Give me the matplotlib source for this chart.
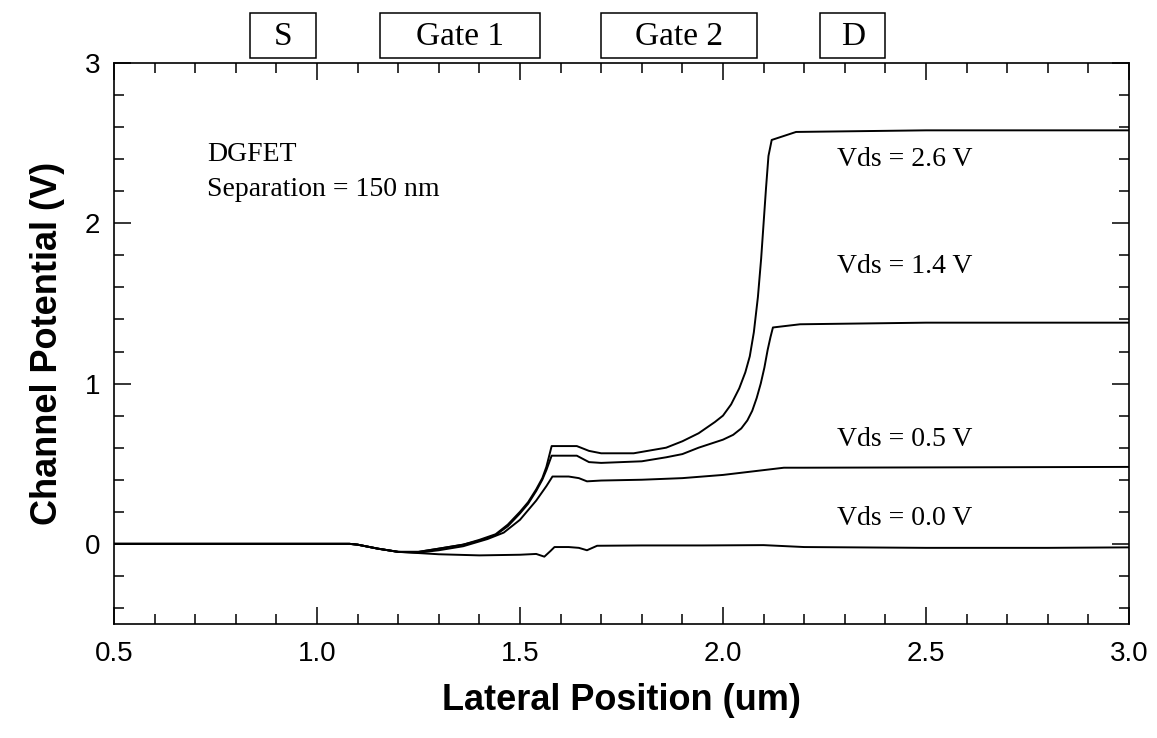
import matplotlib
matplotlib.use("Agg")
import matplotlib.pyplot as plt
from matplotlib.ticker import MultipleLocator

# curves: lateral position (um) vs channel potential (V)
x_vds0 = [0.5, 0.8, 1.0, 1.08, 1.1, 1.15, 1.2, 1.3, 1.4, 1.5, 1.54, 1.56, 1.575,
          1.585, 1.62, 1.645, 1.665, 1.69, 1.8, 1.95, 2.1, 2.2, 2.5, 2.8, 3.0]
v_vds0 = [0.0, 0.0, 0.0, 0.0, -0.005, -0.03, -0.05, -0.065, -0.072, -0.068, -0.063,
          -0.08, -0.045, -0.02, -0.02, -0.025, -0.04, -0.012, -0.01, -0.01, -0.008,
          -0.02, -0.025, -0.025, -0.022]

x_vds05 = [0.5, 0.8, 1.0, 1.08, 1.1, 1.15, 1.2, 1.25, 1.3, 1.36, 1.42, 1.46, 1.5,
           1.54, 1.565, 1.58, 1.62, 1.645, 1.665, 1.7, 1.8, 1.9, 2.0, 2.1, 2.15,
           2.2, 3.0]
v_vds05 = [0.0, 0.0, 0.0, 0.0, -0.005, -0.03, -0.05, -0.055, -0.04, -0.015, 0.03,
           0.07, 0.15, 0.27, 0.36, 0.42, 0.42, 0.41, 0.39, 0.395, 0.40, 0.41, 0.43,
           0.46, 0.475, 0.475, 0.48]

x_vds14 = [0.5, 0.8, 1.0, 1.08, 1.1, 1.15, 1.2, 1.25, 1.3, 1.36, 1.4, 1.44, 1.47,
           1.5, 1.52, 1.54, 1.555, 1.565, 1.578, 1.64, 1.67, 1.7, 1.8, 1.86, 1.9,
           1.94, 1.97, 2.0, 2.025, 2.045, 2.06, 2.072, 2.083, 2.093, 2.102, 2.11,
           2.117, 2.123, 2.19, 2.5, 3.0]
v_vds14 = [0.0, 0.0, 0.0, 0.0, -0.005, -0.03, -0.05, -0.05, -0.03, -0.005, 0.02,
           0.055, 0.11, 0.19, 0.25, 0.33, 0.40, 0.46, 0.55, 0.55, 0.51, 0.505, 0.515,
           0.54, 0.56, 0.60, 0.625, 0.65, 0.68, 0.72, 0.77, 0.83, 0.91, 1.0, 1.1,
           1.21, 1.29, 1.35, 1.37, 1.38, 1.38]

x_vds26 = [0.5, 0.8, 1.0, 1.08, 1.1, 1.15, 1.2, 1.25, 1.3, 1.36, 1.4, 1.44, 1.47,
           1.5, 1.52, 1.54, 1.555, 1.565, 1.578, 1.64, 1.67, 1.7, 1.78, 1.86, 1.9,
           1.94, 1.98, 2.0, 2.02, 2.04, 2.055, 2.066, 2.076, 2.086, 2.094, 2.1,
           2.106, 2.112, 2.12, 2.18, 2.5, 3.0]
v_vds26 = [0.0, 0.0, 0.0, 0.0, -0.005, -0.03, -0.05, -0.05, -0.03, -0.005, 0.025,
           0.06, 0.12, 0.20, 0.26, 0.34, 0.41, 0.48, 0.61, 0.61, 0.58, 0.565, 0.565,
           0.60, 0.64, 0.69, 0.76, 0.80, 0.87, 0.97, 1.07, 1.17, 1.32, 1.54, 1.78,
           2.0, 2.22, 2.42, 2.52, 2.57, 2.58, 2.58]

curve_labels = ["Vds = 2.6 V", "Vds = 1.4 V", "Vds = 0.5 V", "Vds = 0.0 V"]
label_x = [2.28, 2.28, 2.28, 2.28]
label_y = [2.40, 1.73, 0.65, 0.16]

# device regions drawn as boxes above the plot
regions = ["S", "Gate 1", "Gate 2", "D"]
region_start = [0.835, 1.155, 1.70, 2.24]
region_end = [0.997, 1.549, 2.085, 2.40]

fig = plt.figure(figsize=(11.57, 7.38), dpi=100)
ax = fig.add_axes([0.0985, 0.1545, 0.8773, 0.7601])

for xs, vs in [(x_vds0, v_vds0), (x_vds05, v_vds05), (x_vds14, v_vds14), (x_vds26, v_vds26)]:
    ax.plot(xs, vs, color="black", lw=1.4)

serif = "Liberation Serif"
for lab, lx, ly in zip(curve_labels, label_x, label_y):
    ax.text(lx, ly, lab, family=serif, fontsize=20, va="center", ha="left")

ax.text(0.73, 2.43, "DGFET", family=serif, fontsize=20, va="center")
ax.text(0.73, 2.21, "Separation = 150 nm", family=serif, fontsize=20, va="center")

for name, x0, x1 in zip(regions, region_start, region_end):
    ax.text((x0 + x1) / 2, 1.046, name, transform=ax.get_xaxis_transform(),
            family=serif, fontsize=24, ha="center", va="center")
    ax.add_patch(plt.Rectangle((x0, 1.009), x1 - x0, 0.08,
                               transform=ax.get_xaxis_transform(), clip_on=False,
                               fill=False, ec="black", lw=1.1))

ax.set_xlim(0.5, 3.0)
ax.set_ylim(-0.5, 3.0)
ax.xaxis.set_minor_locator(MultipleLocator(0.1))
ax.yaxis.set_minor_locator(MultipleLocator(0.2))
ax.set_xticks([0.5, 1.0, 1.5, 2.0, 2.5, 3.0])
ax.set_xticklabels(["0.5", "1.0", "1.5", "2.0", "2.5", "3.0"])
ax.set_yticks([0, 1, 2, 3])
ax.set_yticklabels(["0", "1", "2", "3"])
ax.tick_params(which="both", direction="in", top=True, right=True, width=1.1)
ax.tick_params(which="major", length=12, labelsize=20)
ax.tick_params(axis="x", which="major", pad=12)
ax.tick_params(axis="y", which="major", pad=10)
ax.tick_params(which="minor", length=7)
for lbl in ax.get_xticklabels() + ax.get_yticklabels():
    lbl.set_family("Liberation Sans")
for sp in ax.spines.values():
    sp.set_linewidth(1.2)

ax.set_xlabel("Lateral Position (um)", family="Liberation Sans", fontsize=26,
              fontweight="bold", labelpad=12)
ax.set_ylabel("Channel Potential (V)", family="Liberation Sans", fontsize=26,
              fontweight="bold", labelpad=14)

fig.savefig("out.png", dpi=100)
